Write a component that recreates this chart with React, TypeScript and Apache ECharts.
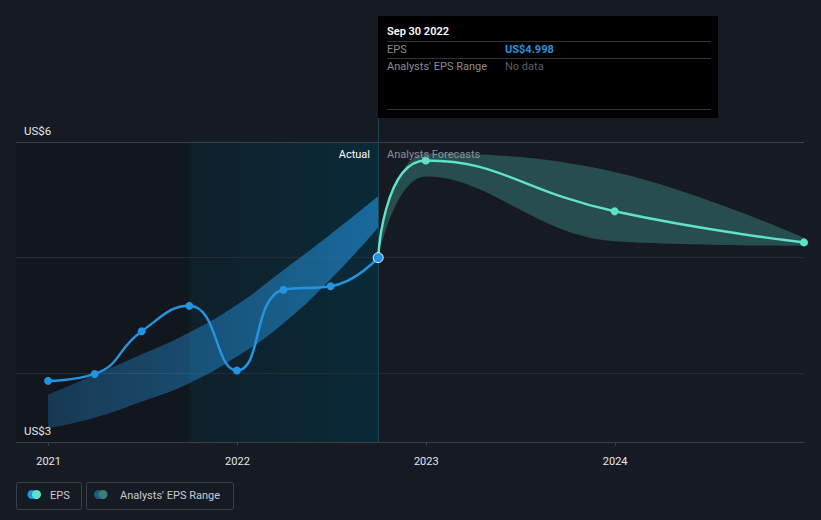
import React, { useEffect, useRef } from "react";
import * as echarts from "echarts";

// ---- data ----
const actualDates = ["2020-12-31", "2021-03-31", "2021-06-30", "2021-09-30", "2021-12-31", "2022-03-31", "2022-06-30", "2022-09-30"];
const actualEps = [3.93, 3.99, 4.36, 4.58, 4.02, 4.72, 4.75, 4.998];
const pastRangeLow = [3.52, 3.61, 3.75, 3.91, 4.14, 4.43, 4.81, 5.26];
const pastRangeHigh = [3.81, 3.98, 4.16, 4.35, 4.59, 4.89, 5.2, 5.53];

const forecastDates = ["2022-09-30", "2022-12-31", "2023-12-31", "2024-12-31"];
const forecastEps = [4.998, 5.84, 5.4, 5.13];
const forecastLow = [4.998, 5.7, 5.14, 5.1];
const forecastHigh = [4.998, 5.9, 5.74, 5.17];

const xTickDates = ["2021-01-01", "2022-01-01", "2023-01-01", "2024-01-01"];
const xTickLabels = ["2021", "2022", "2023", "2024"];
const yTickValues = [3.4, 6];
const yTickLabels = ["US$3", "US$6"];
const gridValues = [4, 5, 6];

const xMin = "2020-10-30";
const xMax = "2024-12-31";
const yMin = 3.4;
const yMax = 6;

const tooltipDate = "Sep 30 2022";

const BG = "#151a23";
const BLUE = "#2394df";
const TEAL = "#5ee2c8";
const FONT = "Roboto, 'Noto Sans', sans-serif";

const ts = (d: string) => Date.UTC(+d.slice(0, 4), +d.slice(5, 7) - 1, +d.slice(8, 10));

export default function App() {
  const ref = useRef<HTMLDivElement>(null);

  useEffect(() => {
    document.body.style.margin = "0";
    const chart = echarts.init(ref.current!, null, { renderer: "svg" });

    const xTickTs = xTickDates.map(ts);
    const pair = (dates: string[], vals: number[]) => dates.map((d, i) => [ts(d), vals[i]]);
    const diff = (dates: string[], hi: number[], lo: number[]) =>
      dates.map((d, i) => [ts(d), +(hi[i] - lo[i]).toFixed(4)]);

    const lastEps = actualEps[actualEps.length - 1];
    const xMinTs = ts(xMin);
    const xMaxTs = ts(xMax);

    const option: any = {
      animation: false,
      backgroundColor: BG,
      textStyle: { fontFamily: FONT },
      grid: { left: 16, right: 17, top: 142, bottom: 78 },
      xAxis: [
        {
          type: "time",
          min: xMinTs,
          max: xMaxTs,
          show: false,
          splitLine: { show: false },
        },
        {
          type: "value",
          min: xMinTs,
          max: xMaxTs,
          position: "bottom",
          z: 10,
          axisLine: { show: true, lineStyle: { color: "#3a3f48", width: 1 } },
          axisTick: { show: true, customValues: xTickTs, length: 4, lineStyle: { color: "#3a3f48" } },
          axisLabel: {
            customValues: xTickTs,
            color: "#e6e8eb",
            fontSize: 11,
            fontFamily: FONT,
            margin: 14,
            formatter: (v: number) => {
              const i = xTickTs.indexOf(v);
              return i >= 0 ? xTickLabels[i] : "";
            },
          },
          splitLine: { show: false },
        },
      ],
      yAxis: {
        type: "value",
        min: yMin,
        max: yMax,
        z: 10,
        axisLine: { show: false },
        axisTick: { show: false },
        splitLine: { show: false },
        axisLabel: {
          customValues: yTickValues,
          inside: true,
          margin: 8,
          verticalAlign: "bottom",
          padding: [0, 0, 5, 0],
          color: "#e6e8eb",
          fontSize: 11.5,
          fontFamily: FONT,
          formatter: (v: number) => {
            const i = yTickValues.findIndex((t) => Math.abs(t - v) < 1e-6);
            return i >= 0 ? yTickLabels[i] : "";
          },
        },
      },
      series: [
        {
          name: "bg",
          type: "line",
          data: [],
          z: 0,
          silent: true,
          markArea: {
            silent: true,
            z: 1,
            itemStyle: { color: "#12161d" },
            data: [
              [{ xAxis: xMinTs, yAxis: yMin, itemStyle: { color: "#12161d" } }, { xAxis: ts(actualDates[3]), yAxis: yMax }],
              [
                {
                  xAxis: ts(actualDates[3]),
                  yAxis: yMin,
                  itemStyle: {
                    color: new echarts.graphic.LinearGradient(0, 0, 1, 0, [
                      { offset: 0, color: "#0f202a" },
                      { offset: 1, color: "#0a2a38" },
                    ]),
                  },
                },
                { xAxis: ts(actualDates[7]), yAxis: yMax },
              ],
            ],
          },
          markLine: {
            silent: true,
            z: 2,
            symbol: "none",
            label: { show: false },
            data: [
              ...gridValues.map((v) => ({
                yAxis: v,
                lineStyle: { color: v === yMax ? "#3b4049" : "#262c36", width: 1, type: "solid" },
              })),
              { xAxis: ts(actualDates[7]), lineStyle: { color: "#1c4454", width: 1, type: "solid" } },
            ],
          },
        },
        {
          name: "pastLow",
          type: "line",
          stack: "past",
          smooth: true,
          symbol: "none",
          silent: true,
          z: 3,
          lineStyle: { opacity: 0 },
          data: pair(actualDates, pastRangeLow),
        },
        {
          name: "pastRange",
          type: "line",
          stack: "past",
          smooth: true,
          symbol: "none",
          silent: true,
          z: 3,
          lineStyle: { opacity: 0 },
          areaStyle: {
            color: new echarts.graphic.LinearGradient(0, 0, 1, 0, [
              { offset: 0, color: "rgba(35,148,223,0.28)" },
              { offset: 1, color: "rgba(35,148,223,0.6)" },
            ]),
            opacity: 1,
          },
          data: diff(actualDates, pastRangeHigh, pastRangeLow),
        },
        {
          name: "fcLow",
          type: "line",
          stack: "fc",
          smooth: 0.4,
          symbol: "none",
          silent: true,
          z: 3,
          lineStyle: { opacity: 0 },
          data: pair(forecastDates, forecastLow),
        },
        {
          name: "fcRange",
          type: "line",
          stack: "fc",
          smooth: 0.4,
          symbol: "none",
          silent: true,
          z: 3,
          lineStyle: { opacity: 0 },
          areaStyle: { color: "rgba(84,196,178,0.3)", opacity: 1 },
          data: diff(forecastDates, forecastHigh, forecastLow),
        },
        {
          name: "EPS forecast",
          type: "line",
          smooth: true,
          z: 5,
          symbol: "circle",
          symbolSize: 8,
          showSymbol: true,
          lineStyle: { color: TEAL, width: 2.5 },
          itemStyle: { color: TEAL },
          data: forecastDates.map((d, i) =>
            i === 0 ? { value: [ts(d), forecastEps[i]], symbolSize: 0 } : [ts(d), forecastEps[i]]
          ),
        },
        {
          name: "EPS",
          type: "line",
          smooth: true,
          z: 6,
          symbol: "circle",
          symbolSize: 8,
          lineStyle: { color: BLUE, width: 2.5 },
          itemStyle: { color: BLUE },
          data: actualDates.map((d, i) =>
            i === actualDates.length - 1
              ? { value: [ts(d), actualEps[i]], symbolSize: 10, itemStyle: { color: BLUE, borderColor: "#e8f4ff", borderWidth: 1 } }
              : [ts(d), actualEps[i]]
          ),
        },
      ],
      graphic: [
        { type: "line", z: 20, shape: { x1: 378.5, y1: 118, x2: 378.5, y2: 142 }, style: { stroke: "#1c4454", lineWidth: 1 }, silent: true },
        { type: "text", z: 20, x: 370, y: 154, style: { text: "Actual", fill: "#ffffff", font: `11px ${FONT}`, textAlign: "right", textVerticalAlign: "middle" } },
        { type: "text", z: 20, x: 387, y: 154, style: { text: "Analysts Forecasts", fill: "#8c9097", font: `11px ${FONT}`, textAlign: "left", textVerticalAlign: "middle" } },
        {
          type: "group",
          z: 30,
          children: [
            { type: "rect", z: 30, shape: { x: 378, y: 16, width: 340, height: 102 }, style: { fill: "#000000" } },
            { type: "text", z: 31, x: 387, y: 31, style: { text: tooltipDate, fill: "#ffffff", font: `600 11px ${FONT}`, textVerticalAlign: "middle" } },
            { type: "line", z: 31, shape: { x1: 387, y1: 41.5, x2: 711, y2: 41.5 }, style: { stroke: "#333438", lineWidth: 1 } },
            { type: "text", z: 31, x: 387, y: 49.5, style: { text: "EPS", fill: "#8a8e95", font: `11px ${FONT}`, textVerticalAlign: "middle" } },
            { type: "text", z: 31, x: 505, y: 49.5, style: { text: `US$${lastEps.toFixed(3)}`, fill: BLUE, font: `bold 11px ${FONT}`, textVerticalAlign: "middle" } },
            { type: "line", z: 31, shape: { x1: 387, y1: 58.5, x2: 711, y2: 58.5 }, style: { stroke: "#333438", lineWidth: 1 } },
            { type: "text", z: 31, x: 387, y: 66, style: { text: "Analysts' EPS Range", fill: "#8a8e95", font: `11px ${FONT}`, textVerticalAlign: "middle" } },
            { type: "text", z: 31, x: 505, y: 66, style: { text: "No data", fill: "#5a5e65", font: `11px ${FONT}`, textVerticalAlign: "middle" } },
            { type: "line", z: 31, shape: { x1: 387, y1: 109.5, x2: 711, y2: 109.5 }, style: { stroke: "#333438", lineWidth: 1 } },
          ],
        },
        {
          type: "group",
          z: 20,
          children: [
            { type: "rect", shape: { x: 16.5, y: 482.5, width: 65, height: 27, r: 2 }, style: { fill: "none", stroke: "#3a3f48", lineWidth: 1 } },
            { type: "circle", shape: { cx: 32, cy: 494.5, r: 4.5 }, style: { fill: BLUE } },
            { type: "circle", shape: { cx: 36.5, cy: 494.5, r: 4.5 }, style: { fill: TEAL } },
            { type: "text", x: 50, y: 495, style: { text: "EPS", fill: "#c9ccd1", font: `11px ${FONT}`, textVerticalAlign: "middle" } },
            { type: "rect", shape: { x: 86.5, y: 482.5, width: 147, height: 27, r: 2 }, style: { fill: "none", stroke: "#3a3f48", lineWidth: 1 } },
            { type: "circle", shape: { cx: 98.5, cy: 494.5, r: 4.5 }, style: { fill: "#1f5a80" } },
            { type: "circle", shape: { cx: 103, cy: 494.5, r: 4.5 }, style: { fill: "#3d7d74" } },
            { type: "text", x: 120, y: 495, style: { text: "Analysts' EPS Range", fill: "#c9ccd1", font: `11px ${FONT}`, textVerticalAlign: "middle" } },
          ],
        },
      ],
    };

    chart.setOption(option);
    return () => chart.dispose();
  }, []);

  return (
    <div
      ref={ref}
      style={{ position: "fixed", left: 0, top: 0, width: 821, height: 520, background: BG }}
    />
  );
}
